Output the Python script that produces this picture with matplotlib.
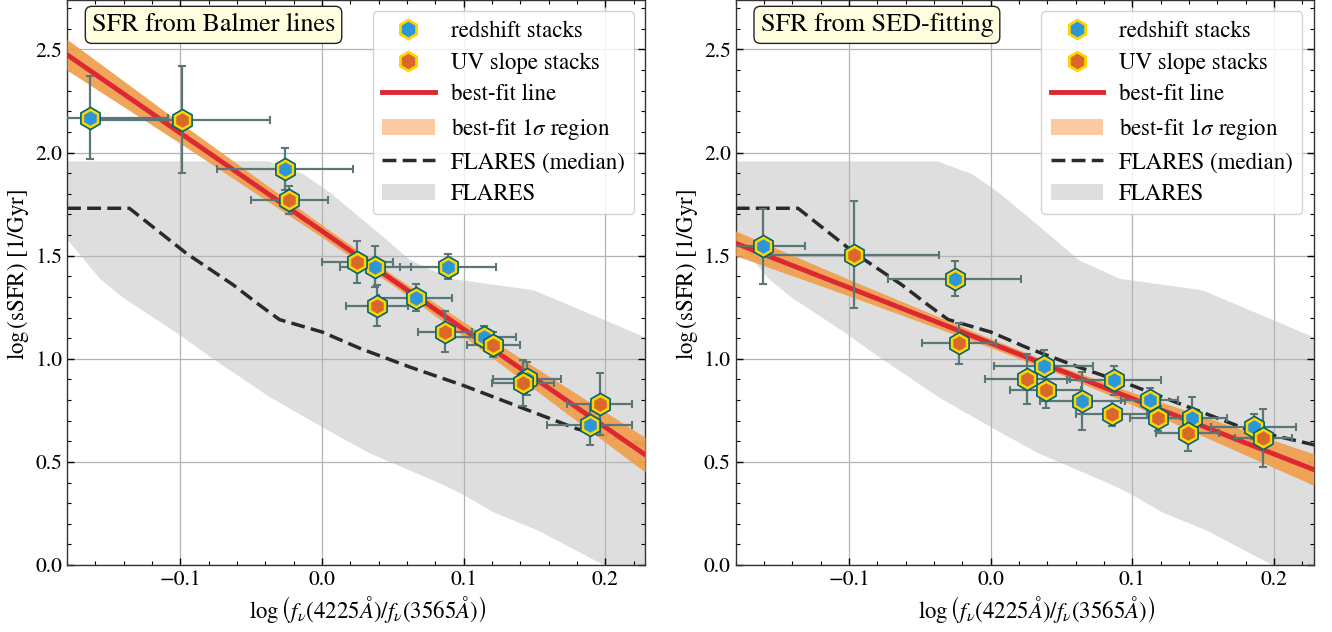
import matplotlib
matplotlib.use("Agg")
import matplotlib.pyplot as plt
import numpy as np
from matplotlib.lines import Line2D
from matplotlib.patches import Patch
from matplotlib.ticker import MultipleLocator

plt.rcParams["font.family"] = "serif"
plt.rcParams["font.serif"] = ["STIXGeneral", "Liberation Serif", "DejaVu Serif"]
plt.rcParams["mathtext.fontset"] = "stix"

# ---- FLARES (same in both panels) ----
flares_up_x = [-0.18, -0.038, -0.014, 0.005, 0.040, 0.062, 0.091, 0.149, 0.23]
flares_up_y = [1.96, 1.96, 1.90, 1.81, 1.61, 1.48, 1.39, 1.335, 1.10]
flares_lo_x = [-0.18, -0.157, -0.141, -0.1025, -0.079, -0.037, 0.0, 0.033, 0.083, 0.0975, 0.121, 0.152, 0.199, 0.23]
flares_lo_y = [1.58, 1.39, 1.30, 1.126, 1.01, 0.816, 0.67, 0.545, 0.398, 0.35, 0.257, 0.17, 0.0, 0.0]
flares_med_x = [-0.18, -0.136, -0.0955, -0.063, -0.044, -0.030, 0.0, 0.027, 0.062, 0.10, 0.14, 0.18, 0.23]
flares_med_y = [1.73, 1.73, 1.51, 1.36, 1.26, 1.19, 1.13, 1.05, 0.96, 0.87, 0.765, 0.66, 0.58]

# ---- Balmer lines panel ----
bal_z_x = [-0.164, -0.026, 0.0375, 0.089, 0.066, 0.114, 0.145, 0.189]
bal_z_y = [2.17, 1.92, 1.447, 1.447, 1.296, 1.107, 0.903, 0.68]
bal_z_xerr = [0.055, 0.048, 0.025, 0.034, 0.026, 0.023, 0.024, 0.03]
bal_z_yerr = [0.2, 0.1, 0.1, 0.06, 0.065, 0.05, 0.08, 0.1]
bal_uv_x = [-0.099, -0.023, 0.025, 0.039, 0.087, 0.121, 0.142, 0.196]
bal_uv_y = [2.16, 1.77, 1.47, 1.257, 1.131, 1.068, 0.883, 0.78]
bal_uv_xerr = [0.062, 0.027, 0.025, 0.022, 0.019, 0.019, 0.022, 0.023]
bal_uv_yerr = [0.26, 0.07, 0.1, 0.1, 0.1, 0.06, 0.11, 0.15]
bal_slope, bal_icpt = -4.755, 1.619
band_x = [-0.18, -0.1, 0.0, 0.05, 0.1, 0.23]
bal_band_hw = [0.075, 0.05, 0.03, 0.025, 0.035, 0.085]

# ---- SED-fitting panel ----
sed_z_x = [-0.161, -0.0254, 0.0374, 0.0646, 0.0872, 0.1123, 0.142, 0.1857]
sed_z_y = [1.545, 1.388, 0.963, 0.795, 0.895, 0.798, 0.714, 0.671]
sed_z_xerr = [0.03, 0.047, 0.035, 0.03, 0.033, 0.02, 0.025, 0.03]
sed_z_yerr = [0.18, 0.085, 0.08, 0.14, 0.07, 0.06, 0.1, 0.06]
sed_uv_x = [-0.0964, -0.0223, 0.0257, 0.0387, 0.0853, 0.118, 0.139, 0.1923]
sed_uv_y = [1.505, 1.076, 0.903, 0.851, 0.733, 0.712, 0.641, 0.615]
sed_uv_xerr = [0.06, 0.026, 0.03, 0.025, 0.025, 0.02, 0.022, 0.02]
sed_uv_yerr = [0.26, 0.1, 0.12, 0.09, 0.06, 0.06, 0.09, 0.14]
sed_slope, sed_icpt = -2.69, 1.076
sed_band_hw = [0.06, 0.04, 0.022, 0.02, 0.03, 0.077]

titles = ["SFR from Balmer lines", "SFR from SED-fitting"]

BLUE = "#2b97d9"
ORANGE = "#d8692a"
GOLD = "#ffd500"
TEAL = "#00636b"
ERR = "#5b7676"
RED = "#dd2833"
BAND = "#f0a050"
GREY = "#dedede"
DASH = (0, (4, 1.8))

XLIM = (-0.18, 0.228)
YLIM = (0.0, 2.74)


def hexpoints(ax, x, y, xe, ye, fc):
    ax.errorbar(x, y, xerr=xe, yerr=ye, fmt="none", ecolor=ERR, elinewidth=1.6,
                capsize=2.8, capthick=1.5, zorder=5)
    ax.plot(x, y, "h", ms=15, mfc=TEAL, mec=TEAL, mew=2, ls="none", zorder=6)
    ax.plot(x, y, "h", ms=12.5, mfc=fc, mec=GOLD, mew=1.8, ls="none", zorder=6)


def panel(ax, title, zx, zy, zxe, zye, ux, uy, uxe, uye, slope, icpt, hw):
    fx = np.linspace(XLIM[0], XLIM[1], 200)
    up = np.interp(fx, flares_up_x, flares_up_y)
    lo = np.interp(fx, flares_lo_x, flares_lo_y)
    ax.fill_between(fx, lo, up, color=GREY, lw=0, zorder=1)
    ax.plot(flares_med_x, flares_med_y, color="#2a2a2a", ls=DASH, lw=2.5, zorder=2)

    line = icpt + slope * fx
    h = np.interp(fx, band_x, hw)
    ax.fill_between(fx, line - h, line + h, color=BAND, alpha=0.95, lw=0, zorder=3)
    ax.plot(fx, line, color=RED, lw=3.5, zorder=4)

    hexpoints(ax, zx, zy, zxe, zye, BLUE)
    hexpoints(ax, ux, uy, uxe, uye, ORANGE)

    ax.set_xlim(*XLIM)
    ax.set_ylim(*YLIM)
    ax.xaxis.set_major_locator(MultipleLocator(0.1))
    ax.xaxis.set_minor_locator(MultipleLocator(0.02))
    ax.yaxis.set_major_locator(MultipleLocator(0.5))
    ax.yaxis.set_minor_locator(MultipleLocator(0.1))
    ax.tick_params(which="both", direction="in", top=True, right=True, labelsize=15.5)
    ax.tick_params(which="major", length=5, width=1)
    ax.tick_params(which="minor", length=3, width=0.8)
    ax.grid(True, which="major", color="#b4b4b4", lw=0.9)
    for s in ax.spines.values():
        s.set_color("#333333")
        s.set_linewidth(1.0)

    ax.set_xlabel(r"$\log\left(f_\nu(4225\AA)/f_\nu(3565\AA)\right)$", fontsize=16.5)
    ax.set_ylabel(r"$\log\left(\mathrm{sSFR}\right)$ [1/Gyr]", fontsize=16.5)
    ax.xaxis.set_label_coords(0.52, -0.052)
    ax.yaxis.set_label_coords(-0.062, 0.515)

    ax.text(0.043, 0.956, title, transform=ax.transAxes, fontsize=18.8, ha="left", va="center",
            bbox=dict(boxstyle="round,pad=0.25", fc="#ffffe0", ec="#222222", lw=1), zorder=10)

    handles = [
        Line2D([], [], marker="h", ls="none", ms=13.5, mfc=BLUE, mec=GOLD, mew=2),
        Line2D([], [], marker="h", ls="none", ms=13.5, mfc=ORANGE, mec=GOLD, mew=2),
        Line2D([], [], color=RED, lw=3.5),
        Patch(fc="#f8cca0", ec="none"),
        Line2D([], [], color="#2a2a2a", ls=DASH, lw=2.5),
        Patch(fc=GREY, ec="none"),
    ]
    labels = ["redshift stacks", "UV slope stacks", "best-fit line",
              r"best-fit 1$\sigma$ region", "FLARES (median)", "FLARES"]
    leg = ax.legend(handles, labels, loc="upper right", fontsize=16.5, handlelength=2.3,
                    handletextpad=0.7, labelspacing=0.45, framealpha=0.85)
    leg.set_zorder(11)


fig = plt.figure(figsize=(13.32, 6.32), dpi=100)
ax1 = fig.add_axes([0.0503, 0.106, 0.434, 0.894])
ax2 = fig.add_axes([0.5523, 0.106, 0.434, 0.894])

panel(ax1, titles[0], bal_z_x, bal_z_y, bal_z_xerr, bal_z_yerr,
      bal_uv_x, bal_uv_y, bal_uv_xerr, bal_uv_yerr, bal_slope, bal_icpt, bal_band_hw)
panel(ax2, titles[1], sed_z_x, sed_z_y, sed_z_xerr, sed_z_yerr,
      sed_uv_x, sed_uv_y, sed_uv_xerr, sed_uv_yerr, sed_slope, sed_icpt, sed_band_hw)

fig.savefig("out.png", dpi=100)
